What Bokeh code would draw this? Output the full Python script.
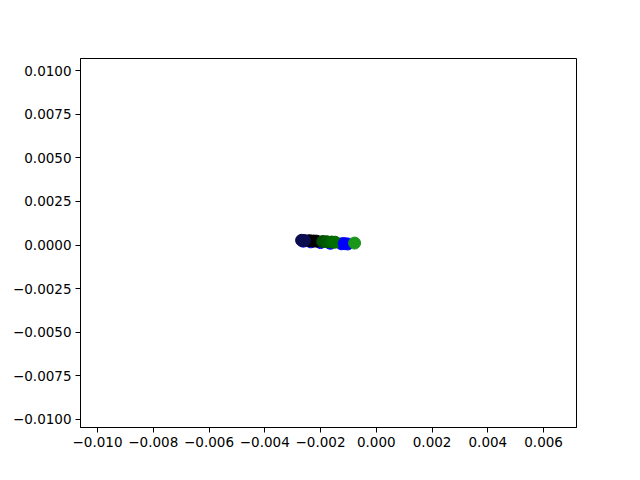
from bokeh.plotting import figure
from bokeh.models import Range1d, FixedTicker, ColumnDataSource
from bokeh.embed import file_html
from bokeh.resources import INLINE

# data
blue_x = [-0.00262, -0.00235, -0.00200, -0.00165, -0.00125]
blue_y = [0.00022, 0.00018, 0.00014, 0.00010, 0.00007]
navy_x = [-0.00268, -0.00258]
navy_y = [0.00027, 0.00026]
black_x = [-0.00240, -0.00225, -0.00214]
black_y = [0.00025, 0.00023, 0.00022]
green_x = [-0.00192, -0.00178, -0.00160, -0.00148]
green_y = [0.00020, 0.00019, 0.00017, 0.00016]
green_colors = ["#004d00", "#005a00", "#006400", "#006e00"]
blue2_x = [-0.00115, -0.00103]
blue2_y = [0.00008, 0.00006]
lgreen_x = [-0.00078]
lgreen_y = [0.00011]

x_ticks = [-0.010, -0.008, -0.006, -0.004, -0.002, 0.0, 0.002, 0.004, 0.006]
y_ticks = [-0.0100, -0.0075, -0.0050, -0.0025, 0.0, 0.0025, 0.0050, 0.0075, 0.0100]

def fmt(v, d):
    s = f"{v:.{d}f}"
    if s.startswith("-"):
        if float(s) == 0:
            s = s[1:]
        else:
            s = "\u2212" + s[1:]
    return s

p = figure(width=640, height=480, output_backend="svg", toolbar_location=None,
           x_range=Range1d(-0.01061, 0.00718), y_range=Range1d(-0.01046, 0.01069),
           min_border_left=80, min_border_right=64, min_border_top=58, min_border_bottom=53)
p.background_fill_color = "white"
p.border_fill_color = "white"
p.outline_line_color = "black"
p.outline_line_width = 1
p.grid.visible = False

p.xaxis.ticker = FixedTicker(ticks=x_ticks)
p.yaxis.ticker = FixedTicker(ticks=y_ticks)
p.xaxis.major_label_overrides = {t: fmt(t, 3) for t in x_ticks}
p.yaxis.major_label_overrides = {t: fmt(t, 4) for t in y_ticks}
for ax in (p.xaxis, p.yaxis):
    ax.major_label_text_font = "DejaVu Sans"
    ax.major_label_text_font_size = "13.5px"
    ax.major_label_text_color = "black"
    ax.axis_line_color = "black"
    ax.major_tick_line_color = "black"
    ax.major_tick_out = 5
    ax.major_tick_in = 0
    ax.minor_tick_line_color = None
    ax.major_label_standoff = 4

S = 12
src_g = ColumnDataSource(dict(x=green_x, y=green_y, c=green_colors))
p.scatter(blue_x, blue_y, size=S, color="blue")
p.scatter(black_x, black_y, size=S, color="black")
p.scatter("x", "y", source=src_g, size=S, color="c")
p.scatter(blue2_x, blue2_y, size=S, color="blue")
p.scatter(lgreen_x, lgreen_y, size=S, color="#1a961a")
p.scatter(navy_x, navy_y, size=S, color="#0c0c50")

open("out.html", "w").write(file_html(p, INLINE))
